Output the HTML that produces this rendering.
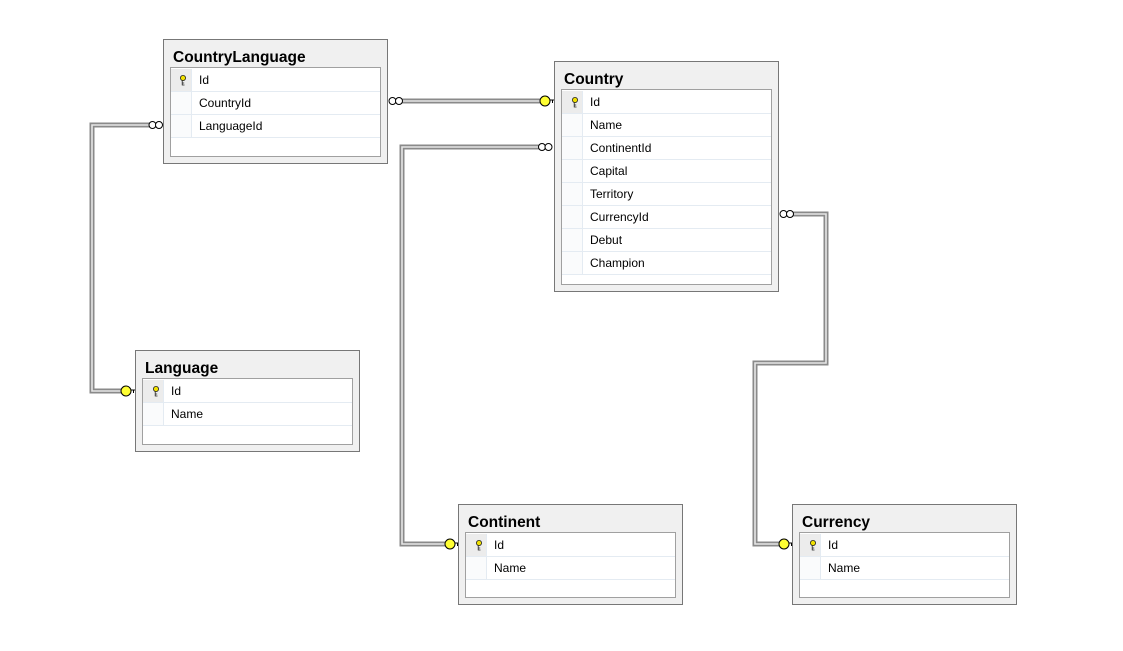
<!DOCTYPE html>
<html><head><meta charset="utf-8"><style>
body{margin:0;width:1123px;height:651px;background:#fff;position:relative;overflow:hidden;font-family:"Liberation Sans",sans-serif}
.t{position:absolute;background:#f0f0f0;border:1px solid #777;box-sizing:border-box}
.t .h{position:absolute;left:9px;top:9px;font-weight:bold;font-size:15.5px;color:#000}
.t .in{position:absolute;left:6px;top:27px;right:6px;bottom:6px;background:#fff;border:1px solid #a0a0a0;padding-top:1px}
.r{height:22px;border-bottom:1px solid #e4ebf2;position:relative;font-size:12px;line-height:22px}
.r .c{position:absolute;left:0;top:0;width:20px;height:22px;border-right:1px solid #e4ebf2;background:#fafbfc}
.r .k{background:#ececec}
.r span{position:absolute;left:28px}
svg{position:absolute;left:0;top:0}
</style></head><body>
<svg width="1123" height="651">
<g fill="none" stroke-linejoin="miter">
<g stroke="#8a8a8a" stroke-width="5">
<polyline points="150,125 92,125 92,391 122,391"/>
<polyline points="402,101 540,101"/>
<polyline points="539,147 402,147 402,544 446,544"/>
<polyline points="792,214 826,214 826,363 755,363 755,544 780,544"/>
</g>
<g stroke="#e6e6e6" stroke-width="1.6">
<polyline points="150,125 92,125 92,391 122,391"/>
<polyline points="402,101 540,101"/>
<polyline points="539,147 402,147 402,544 446,544"/>
<polyline points="792,214 826,214 826,363 755,363 755,544 780,544"/>
</g>
</g>
<g fill="#fff" stroke="#000" stroke-width="1">
<circle cx="152.5" cy="125" r="3.5"/><circle cx="159" cy="125" r="3.5"/>
<circle cx="392.5" cy="101" r="3.5"/><circle cx="399" cy="101" r="3.5"/>
<circle cx="542" cy="147" r="3.5"/><circle cx="548.5" cy="147" r="3.5"/>
<circle cx="783.5" cy="214" r="3.5"/><circle cx="790" cy="214" r="3.5"/>
</g>
<g fill="#ffff33" stroke="#000" stroke-width="1">
<g transform="translate(126,391)"><circle r="5"/><path d="M5,-1 H10 V2 M7.5,-1 V2" fill="none"/></g>
<g transform="translate(545,101)"><circle r="5"/><path d="M5,-1 H10 V2 M7.5,-1 V2" fill="none"/></g>
<g transform="translate(450,544)"><circle r="5"/><path d="M5,-1 H10 V2 M7.5,-1 V2" fill="none"/></g>
<g transform="translate(784,544)"><circle r="5"/><path d="M5,-1 H10 V2 M7.5,-1 V2" fill="none"/></g>
</g>
</svg>

<div class="t" style="left:163px;top:39px;width:225px;height:125px"><div class="h">CountryLanguage</div><div class="in">
<div class="r"><div class="c k"></div><span>Id</span></div>
<div class="r"><div class="c"></div><span>CountryId</span></div>
<div class="r"><div class="c"></div><span>LanguageId</span></div>
</div></div>

<div class="t" style="left:554px;top:61px;width:225px;height:231px"><div class="h">Country</div><div class="in">
<div class="r"><div class="c k"></div><span>Id</span></div>
<div class="r"><div class="c"></div><span>Name</span></div>
<div class="r"><div class="c"></div><span>ContinentId</span></div>
<div class="r"><div class="c"></div><span>Capital</span></div>
<div class="r"><div class="c"></div><span>Territory</span></div>
<div class="r"><div class="c"></div><span>CurrencyId</span></div>
<div class="r"><div class="c"></div><span>Debut</span></div>
<div class="r"><div class="c"></div><span>Champion</span></div>
</div></div>

<div class="t" style="left:135px;top:350px;width:225px;height:102px"><div class="h">Language</div><div class="in">
<div class="r"><div class="c k"></div><span>Id</span></div>
<div class="r"><div class="c"></div><span>Name</span></div>
</div></div>

<div class="t" style="left:458px;top:504px;width:225px;height:101px"><div class="h">Continent</div><div class="in">
<div class="r"><div class="c k"></div><span>Id</span></div>
<div class="r"><div class="c"></div><span>Name</span></div>
</div></div>

<div class="t" style="left:792px;top:504px;width:225px;height:101px"><div class="h">Currency</div><div class="in">
<div class="r"><div class="c k"></div><span>Id</span></div>
<div class="r"><div class="c"></div><span>Name</span></div>
</div></div>

<svg width="1123" height="651" style="pointer-events:none">
<g fill="#f0e000" stroke="#222" stroke-width="0.8">
<g transform="translate(183,80)"><circle cx="0" cy="-2" r="2.6"/><path d="M-0.8,0.5 V5 H1.5 M-0.8,3 H1.2" fill="none"/></g>
<g transform="translate(575,102)"><circle cx="0" cy="-2" r="2.6"/><path d="M-0.8,0.5 V5 H1.5 M-0.8,3 H1.2" fill="none"/></g>
<g transform="translate(156,391)"><circle cx="0" cy="-2" r="2.6"/><path d="M-0.8,0.5 V5 H1.5 M-0.8,3 H1.2" fill="none"/></g>
<g transform="translate(479,545)"><circle cx="0" cy="-2" r="2.6"/><path d="M-0.8,0.5 V5 H1.5 M-0.8,3 H1.2" fill="none"/></g>
<g transform="translate(813,545)"><circle cx="0" cy="-2" r="2.6"/><path d="M-0.8,0.5 V5 H1.5 M-0.8,3 H1.2" fill="none"/></g>
</g>
</svg>
</body></html>
